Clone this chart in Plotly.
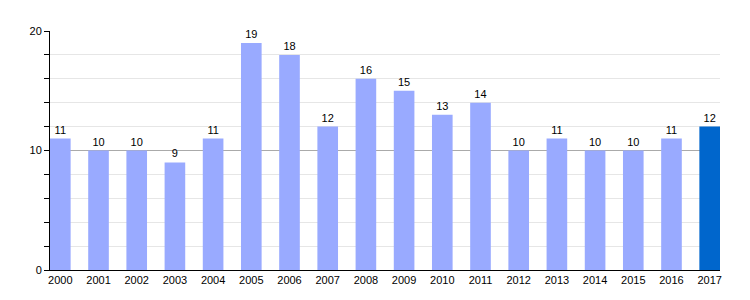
import plotly.graph_objects as go

years = [str(y) for y in range(2000, 2018)]
values = [11, 10, 10, 9, 11, 19, 18, 12, 16, 15, 13, 14, 10, 11, 10, 10, 11, 12]
colors = ["#99aaff"] * 17 + ["#0066cc"]

fig = go.Figure(go.Bar(
    x=years, y=values, marker=dict(color=colors, line=dict(width=0)),
    width=0.54, text=[str(v) for v in values], textposition="outside",
    textfont=dict(color="black", size=11), cliponaxis=False,
))
fig.update_layout(
    width=750, height=300, margin=dict(l=50, r=30, t=31, b=30),
    paper_bgcolor="white", plot_bgcolor="white",
    font=dict(family="Liberation Sans, Arial, sans-serif", size=11, color="black"),
    showlegend=False,
)
fig.update_xaxes(type="category", range=[-0.27, 17.27], showline=True, linecolor="black",
                 linewidth=1, ticks="", showgrid=False, tickfont=dict(size=11))
fig.update_yaxes(range=[0, 20], tickvals=[0, 10, 20], showline=True, linecolor="black",
                 linewidth=1, ticks="outside", ticklen=5, tickcolor="black",
                 gridcolor="#aaaaaa", zeroline=False,
                 minor=dict(dtick=2, ticks="outside", ticklen=5, tickcolor="black",
                            showgrid=True, gridcolor="#e6e6e6"))
fig.write_html("out.html")
